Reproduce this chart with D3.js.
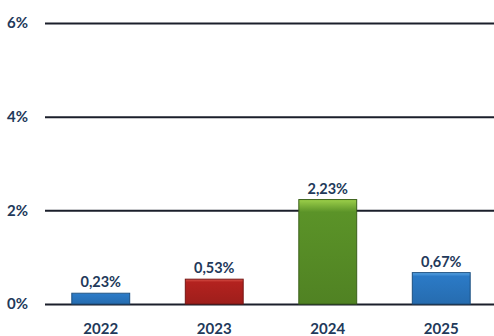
<!DOCTYPE html>
<html>
<head>
<meta charset="utf-8">
<script src="https://cdn.jsdelivr.net/npm/d3@7"></script>
<style>
  html, body { margin: 0; padding: 0; background: #fff; }
  svg { display: block; }
  text { font-family: Lato, "Open Sans", sans-serif; font-weight: 700; fill: #22395a; }
</style>
</head>
<body>
<div id="chart"></div>
<script>
const years = ["2022", "2023", "2024", "2025"];
const values = [0.23, 0.53, 2.23, 0.67];
const valueLabels = ["0,23%", "0,53%", "2,23%", "0,67%"];
const barColors = ["#2b7ac6", "#b3221f", "#5b9328", "#2b7ac6"];
const barTops = ["#5aa6e6", "#d9534a", "#9ccf4a", "#5aa6e6"];
const tickValues = [0, 2, 4, 6];
const tickLabels = ["0%", "2%", "4%", "6%"];

const W = 494, H = 336;
const svg = d3.select("#chart").append("svg").attr("width", W).attr("height", H);

const y = d3.scaleLinear().domain([0, 6]).range([304, 23]);
const x = d3.scaleBand().domain(years).range([44, 498]).paddingInner(0.49).paddingOuter(0.245);

const defs = svg.append("defs");
years.forEach((yr, i) => {
  const g = defs.append("linearGradient").attr("id", "g" + i)
    .attr("x1", 0).attr("y1", 0).attr("x2", 0).attr("y2", 1);
  g.append("stop").attr("offset", "0%").attr("stop-color", barTops[i]);
  g.append("stop").attr("offset", "12%").attr("stop-color", barColors[i]);
  g.append("stop").attr("offset", "100%").attr("stop-color", d3.color(barColors[i]).darker(0.35));
});

// gridlines with percentage labels
const yAxis = d3.axisLeft(y).tickValues(tickValues).tickFormat((d, i) => tickLabels[i])
  .tickSize(-(W - 45));
const ga = svg.append("g").attr("transform", "translate(45,0)").call(yAxis);
ga.attr("font-size", 15);
ga.select(".domain").remove();
ga.selectAll(".tick line").attr("stroke", "#1b1f2b").attr("stroke-width", 2);
ga.selectAll(".tick text").style("font-size", "15px").attr("text-anchor", "start")
  .attr("x", -38).attr("fill", "#22395a");

// bars
svg.append("g").selectAll("rect").data(values).join("rect")
  .attr("x", (d, i) => x(years[i]))
  .attr("width", x.bandwidth())
  .attr("y", d => y(d))
  .attr("height", d => y(0) - y(d))
  .attr("fill", (d, i) => `url(#g${i})`)
  .attr("stroke", (d, i) => d3.color(barColors[i]).darker(1.2))
  .attr("stroke-width", 1);

// value labels above bars
svg.append("g").selectAll("text").data(values).join("text")
  .attr("x", (d, i) => x(years[i]) + x.bandwidth() / 2)
  .attr("y", d => y(d) - 6)
  .attr("text-anchor", "middle")
  .attr("font-size", 14.5)
  .text((d, i) => valueLabels[i]);

// year labels
const xAxis = d3.axisBottom(x).tickSize(0).tickPadding(19);
const gx = svg.append("g").attr("transform", "translate(0,304)").call(xAxis);
gx.select(".domain").remove();
gx.selectAll(".tick text").attr("font-size", 15).attr("fill", "#22395a");
</script>
</body>
</html>
